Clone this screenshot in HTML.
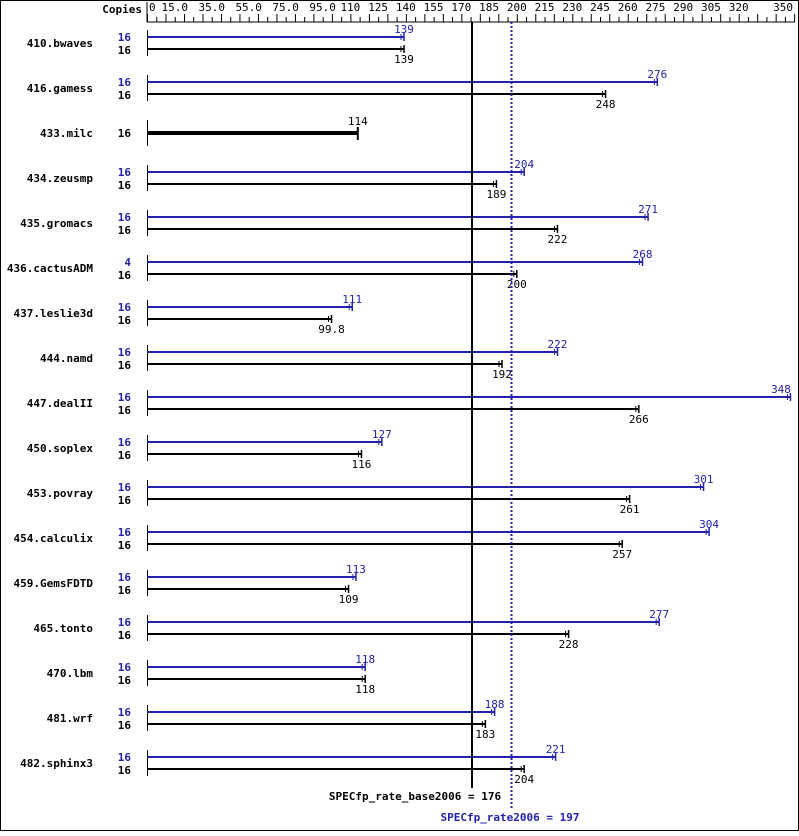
<!DOCTYPE html>
<html><head><meta charset="utf-8"><style>
body{margin:0;background:#fff}
svg text{font-family:"DejaVu Sans Mono","Liberation Mono",monospace;font-size:11px}
</style></head><body>
<svg id="s" width="799" height="831" xmlns="http://www.w3.org/2000/svg">
<rect x="0.5" y="0.5" width="798" height="830" fill="#fff" stroke="#000"/>
</svg>
<script>
const s=document.getElementById('s');const NS='http://www.w3.org/2000/svg';
function el(t,a,txt){const e=document.createElementNS(NS,t);for(const k in a)e.setAttribute(k,a[k]);if(txt!==undefined)e.textContent=txt;s.appendChild(e);return e;}
const X=v=>147+v*1.849;const B='#2222aa';
el('text',{x:142,y:13,'text-anchor':'end','font-weight':'bold'},'Copies');
el('line',{x1:147,y1:2,x2:147,y2:22,stroke:'#000'});
el('line',{x1:147,y1:22,x2:795,y2:22,stroke:'#000'});
for(let v=0;v<=350;v+=5){el('line',{x1:X(v)+.5,y1:v%10==0?14:17,x2:X(v)+.5,y2:22,stroke:'#000'});}
[0,15,35,55,75,95,110,125,140,155,170,185,200,215,230,245,260,275,290,305,320,350].forEach(v=>{
 let a='middle',x=X(v);if(v==0){a='start';x=149;}if(v==350){a='end';x=793;}
 el('text',{x:x,y:11,'text-anchor':a},v<100&&v>0?v.toFixed(1):String(v));});
const d=[["410.bwaves",16,139,16,139],["416.gamess",16,276,16,248],["433.milc",null,null,16,114],["434.zeusmp",16,204,16,189],["435.gromacs",16,271,16,222],["436.cactusADM",4,268,16,200],["437.leslie3d",16,111,16,"99.8"],["444.namd",16,222,16,192],["447.dealII",16,348,16,266],["450.soplex",16,127,16,116],["453.povray",16,301,16,261],["454.calculix",16,304,16,257],["459.GemsFDTD",16,113,16,109],["465.tonto",16,277,16,228],["470.lbm",16,118,16,118],["481.wrf",16,188,16,183],["482.sphinx3",16,221,16,204]];
d.forEach((r,i)=>{const c=43+45*i;
 el('text',{x:93,y:c+4,'text-anchor':'end','font-weight':'bold'},r[0]);
 el('line',{x1:147.5,y1:c-13,x2:147.5,y2:c+13,stroke:'#000'});
 if(r[1]===null){const x=X(+r[4]);el('rect',{x:147,y:c-2,width:x-147,height:4,fill:'#000'});
  el('line',{x1:x,y1:c-6,x2:x,y2:c+7,stroke:'#000','stroke-width':2});
  el('text',{x:x,y:c-8,'text-anchor':'middle'},String(r[4]));
  el('text',{x:131,y:c+4,'text-anchor':'end','font-weight':'bold'},'16');return;}
 const yb=c-6,yk=c+6;
 el('text',{x:131,y:yb+4,'text-anchor':'end','font-weight':'bold',fill:B},String(r[1]));
 el('text',{x:131,y:yk+5,'text-anchor':'end','font-weight':'bold'},String(r[3]));
 let x=X(r[2]);el('rect',{x:147,y:yb-1,width:x-147,height:2,fill:B});
 el('line',{x1:x,y1:yb-4,x2:x,y2:yb+4,stroke:B,'stroke-width':1.5});el('line',{x1:x-3,y1:yb-3,x2:x-3,y2:yb+3,stroke:B});
 el('text',{x:Math.min(x,781),y:yb-4,'text-anchor':'middle',fill:B},String(r[2]));
 x=X(+r[4]);el('rect',{x:147,y:yk-1,width:x-147,height:2,fill:'#000'});
 el('line',{x1:x,y1:yk-4,x2:x,y2:yk+4,stroke:'#000','stroke-width':1.5});el('line',{x1:x-3,y1:yk-3,x2:x-3,y2:yk+3,stroke:'#000'});
 el('text',{x:x,y:yk+14,'text-anchor':'middle'},String(r[4]));
});
el('line',{x1:472,y1:22,x2:472,y2:788,stroke:'#000','stroke-width':2});
el('line',{x1:511.5,y1:22,x2:511.5,y2:810,stroke:B,'stroke-width':2,'stroke-dasharray':'2,2'});
el('text',{x:415,y:800,'text-anchor':'middle','font-weight':'bold'},'SPECfp_rate_base2006 = 176');
el('text',{x:510,y:821,'text-anchor':'middle','font-weight':'bold',fill:B},'SPECfp_rate2006 = 197');
</script>
</body></html>
